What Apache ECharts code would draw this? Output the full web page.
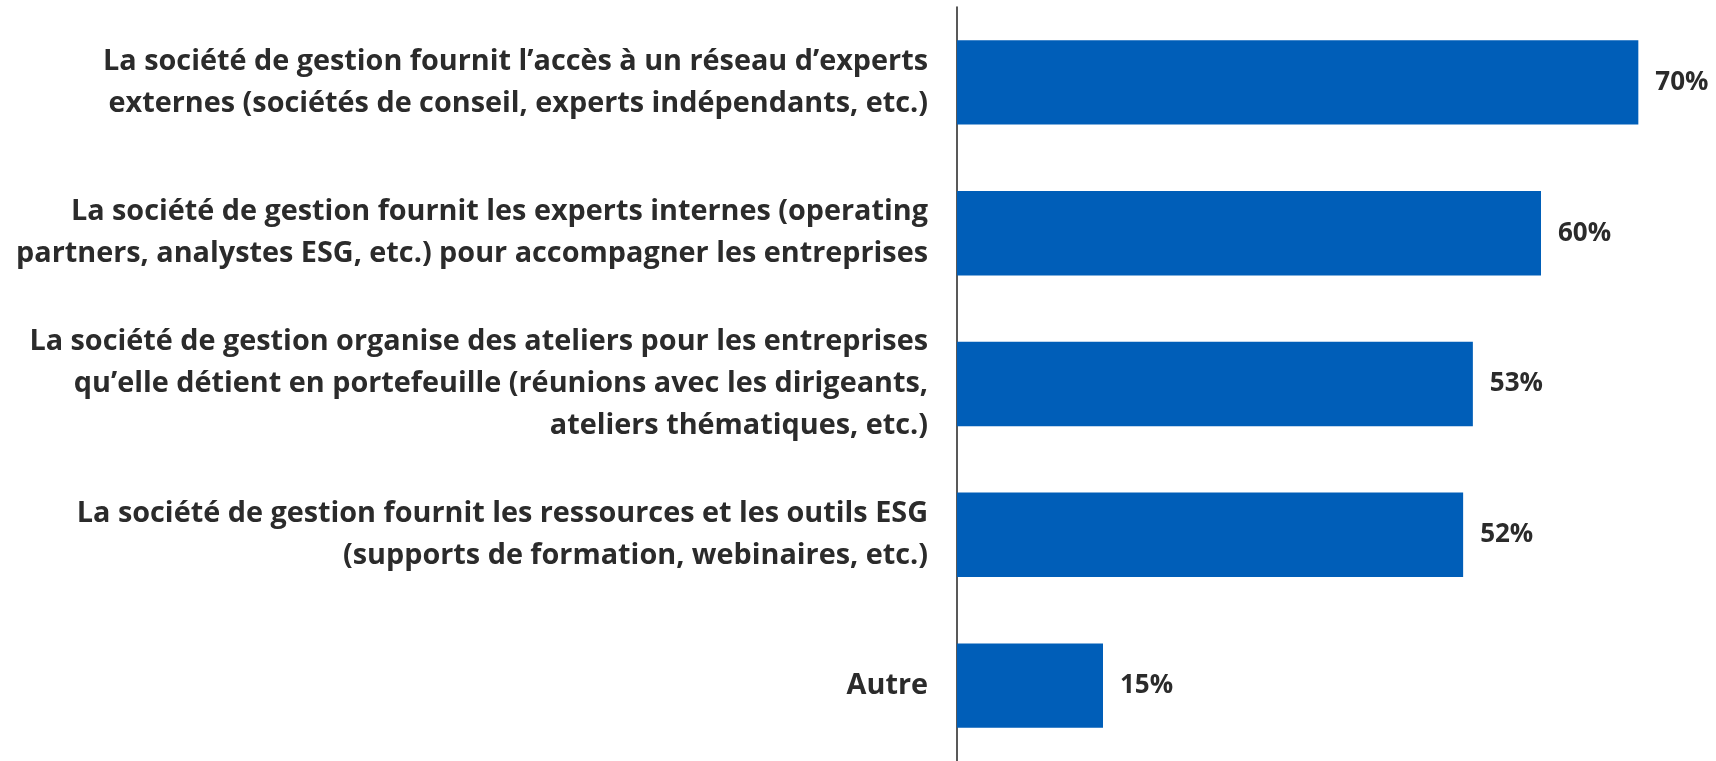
<!DOCTYPE html>
<html lang="fr">
<head>
    <meta charset="UTF-8">
    <title>Accompagnement ESG</title>
    <script src="https://cdn.jsdelivr.net/npm/echarts@6/dist/echarts.min.js"></script>
    <style>
        html, body { margin: 0; padding: 0; background: #fff; }
        #chart { width: 1716px; height: 761px; }
    </style>
</head>
<body>
    <div id="chart"></div>
    <script>
        // catégories (de haut en bas)
        let categories = [
            'La société de gestion fournit l’accès à un réseau d’experts\nexternes (sociétés de conseil, experts indépendants, etc.)',
            'La société de gestion fournit les experts internes (operating\npartners, analystes ESG, etc.) pour accompagner les entreprises',
            'La société de gestion organise des ateliers pour les entreprises\nqu’elle détient en portefeuille (réunions avec les dirigeants,\nateliers thématiques, etc.)',
            'La société de gestion fournit les ressources et les outils ESG\n(supports de formation, webinaires, etc.)',
            'Autre'
        ];
        // pourcentages
        let values = [70, 60, 53, 52, 15];

        let chart = echarts.init(document.getElementById('chart'));
        chart.setOption({
            animation: false,
            grid: {
                left: 957,
                right: 29,
                top: 7,
                bottom: -3
            },
            xAxis: {
                type: 'value',
                min: 0,
                max: 75,
                show: false
            },
            yAxis: {
                type: 'category',
                data: categories,
                inverse: true,
                axisLine: { show: true, lineStyle: { color: '#222', width: 1.5 } },
                axisTick: { show: false },
                axisLabel: {
                    margin: 29,
                    color: '#2b2b2b',
                    fontFamily: 'Open Sans',
                    fontWeight: 'bold',
                    fontSize: 28.8,
                    lineHeight: 42,
                    align: 'right'
                }
            },
            series: [{
                type: 'bar',
                data: values,
                barCategoryGap: '44%',
                itemStyle: { color: '#005EB8' },
                label: {
                    show: true,
                    position: 'right',
                    distance: 17,
                    formatter: '{c}%',
                    color: '#2b2b2b',
                    fontFamily: 'Open Sans',
                    fontWeight: 'bold',
                    fontSize: 26
                }
            }]
        });
    </script>
</body>
</html>
